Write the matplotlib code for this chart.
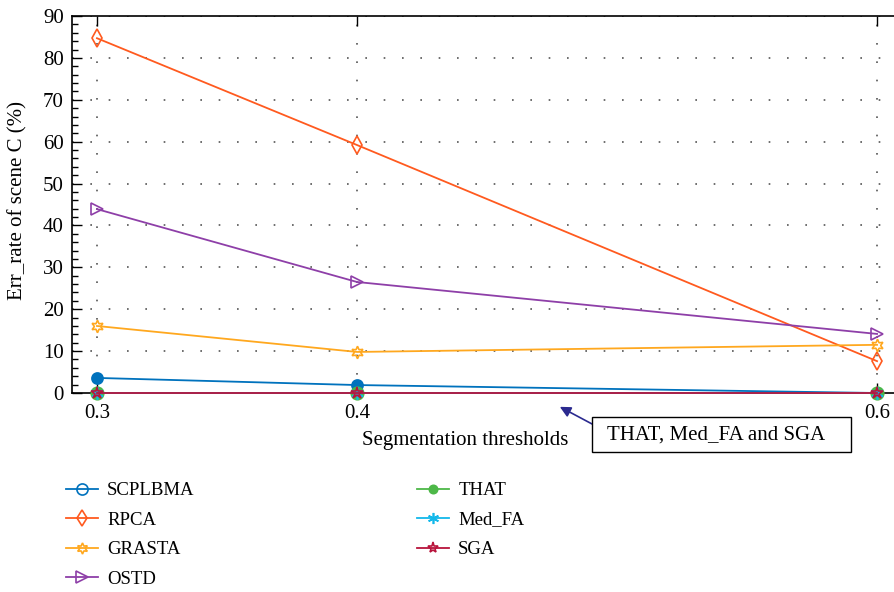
import matplotlib
matplotlib.use("Agg")
import matplotlib.pyplot as plt
from matplotlib.lines import Line2D
from matplotlib.patches import Rectangle
from matplotlib.ticker import MultipleLocator

plt.rcParams['font.family'] = ['Liberation Serif', 'DejaVu Serif']

# error rate of scene C (%) vs segmentation threshold
thresholds = [0.3, 0.4, 0.6]
scplbma = [3.6, 1.9, 0.0]
rpca = [84.7, 59.2, 7.6]
grasta = [16.0, 9.8, 11.5]
ostd = [43.9, 26.5, 14.1]
that = [0.0, 0.0, 0.0]
med_fa = [0.0, 0.0, 0.0]
sga = [0.0, 0.0, 0.0]

names = ['SCPLBMA', 'RPCA', 'GRASTA', 'OSTD', 'THAT', 'Med_FA', 'SGA']
series = [scplbma, rpca, grasta, ostd, that, med_fa, sga]
colors = ['#0072BD', '#FF5A1F', '#FFA81F', '#8E3FA8', '#4DB848', '#12B8EA', '#B8143C']
markers = ['o', 'd', (6, 1, 0), '>', 'o', (6, 2, 0), '*']

fig = plt.figure(figsize=(8.95, 5.92), dpi=100)
ax = fig.add_axes([72 / 895, 1 - 393 / 592, 1 - 72 / 895, 377 / 592])

for i, (name, vals) in enumerate(zip(names, series)):
    filled = name in ('SCPLBMA', 'THAT')
    ax.plot(thresholds, vals, color=colors[i], lw=1.3,
            marker=markers[i], markersize=9 if name != 'SCPLBMA' else 8,
            markerfacecolor=colors[i] if filled else 'none',
            markeredgewidth=1.2, clip_on=False, zorder=3 + i)

ax.set_xlim(0.2904, 0.6069)
ax.set_ylim(0, 90)
ax.set_xticks(thresholds)
ax.set_xticklabels(['0.3', '0.4', '0.6'])
ax.yaxis.set_major_locator(MultipleLocator(10))
ax.yaxis.set_minor_locator(MultipleLocator(2))
ax.tick_params(axis='both', which='major', direction='in', length=7, width=1,
               labelsize=15, top=True, right=False)
ax.tick_params(axis='y', which='minor', direction='in', length=4, width=1)
ax.tick_params(axis='x', pad=8)
ax.tick_params(axis='y', pad=6)
ax.spines['right'].set_visible(False)
for s in ('left', 'bottom', 'top'):
    ax.spines[s].set_linewidth(1.2)

ax.grid(True, which='major', linestyle=(0, (1, 10)), color='#555555', lw=1.2)

ax.set_xlabel('Segmentation thresholds', fontsize=15)
ax.xaxis.set_label_coords((465 - 72) / 823, -0.1)
ax.set_ylabel('Err_rate of scene C (%)', fontsize=15)
ax.yaxis.set_label_coords(-0.054, 0.51)

# callout box for the three methods sitting on zero
ax.add_patch(Rectangle((0.4904, -14.08), 0.0996, 8.35, transform=ax.transData,
                       fc='white', ec='black', lw=1, clip_on=False, zorder=10))
ax.text(0.538, -10.0, 'THAT, Med_FA and SGA', ha='center', va='center',
        fontsize=15, zorder=11, clip_on=False)
ax.annotate('', xy=(0.478, -3.3), xytext=(0.4904, -7.4), annotation_clip=False,
            arrowprops=dict(arrowstyle='-|>', color='#2B2A8F', lw=1.2,
                            mutation_scale=16, shrinkA=0, shrinkB=0))

handles = []
for i, name in enumerate(names):
    handles.append(Line2D([], [], color=colors[i], lw=1.3, marker=markers[i],
                          markersize=8 if name != 'THAT' else 6,
                          markerfacecolor=colors[i] if name == 'THAT' else 'none',
                          markeredgewidth=1.2))
fig.legend(handles, names, loc='upper left', bbox_to_anchor=(66 / 895, 1 - 482 / 592),
           ncol=2, frameon=False, fontsize=13.5, handlelength=1.7,
           handletextpad=0.5, labelspacing=0.66, columnspacing=11.85,
           borderpad=0, borderaxespad=0)

fig.savefig('out.png', dpi=100)
